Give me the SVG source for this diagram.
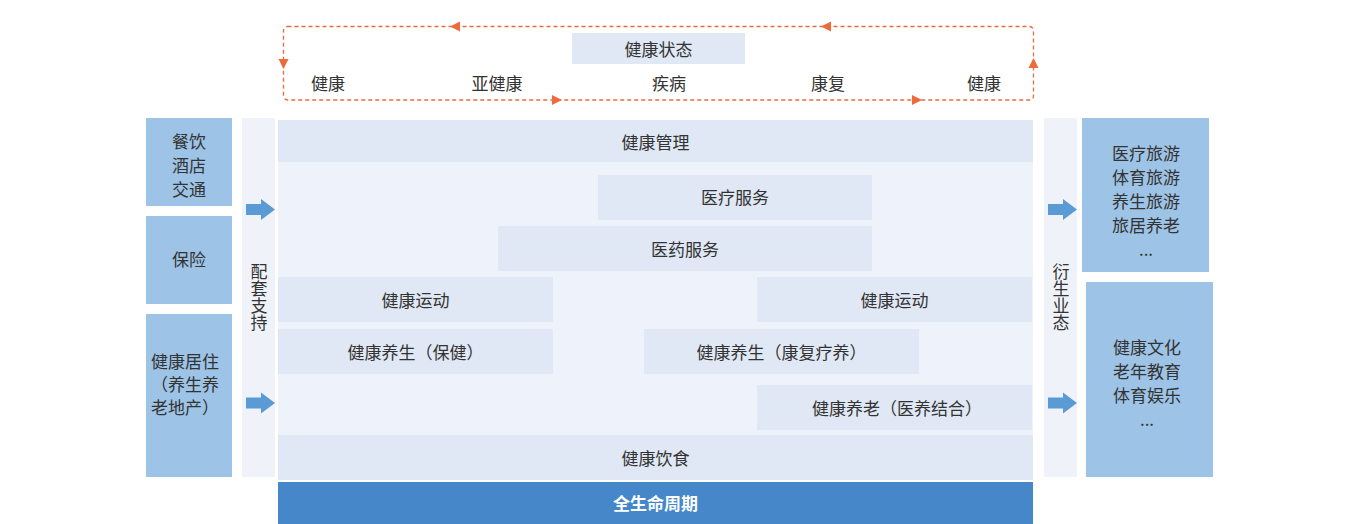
<svg xmlns="http://www.w3.org/2000/svg" width="1360" height="524" viewBox="0 0 1360 524">
<defs>
<style>
text{font-family:"Noto Sans CJK SC","Noto Sans",sans-serif;font-size:17px;fill:#333;text-anchor:middle;dominant-baseline:central}
.vt{writing-mode:vertical-rl;dominant-baseline:auto}
.box{fill:#dfe8f4}
.side{fill:#9dc3e6}
.col{fill:#eff3f9}
.cyc{fill:none;stroke:#ee6a3c;stroke-width:1.3;stroke-dasharray:4 3}
.ah{fill:#ee6a3c}
.ba{fill:#5b9bd5}
.w{fill:#fff;font-weight:bold}
</style>
</defs>
<rect width="1360" height="524" fill="#fff"/>

<g id="cycle">
<rect class="cyc" x="283.5" y="26.5" width="750" height="73.5" rx="4"/>
<polygon class="ah" points="450,26.5 460,21.5 460,31.5"/>
<polygon class="ah" points="821,26.5 831,21.5 831,31.5"/>
<polygon class="ah" points="283.5,69 278.5,59 288.5,59"/>
<polygon class="ah" points="1033.5,58 1028.5,68 1038.5,68"/>
<polygon class="ah" points="562,100 552,95 552,105"/>
<polygon class="ah" points="922,100 912,95 912,105"/>
</g>
<g id="state">
<rect class="box" x="572" y="33" width="173" height="31"/>
<text x="658.5" y="48.5">健康状态</text>
</g>
<g id="stages">
<text x="328" y="82.5">健康</text>
<text x="497" y="82.5">亚健康</text>
<text x="669" y="82.5">疾病</text>
<text x="828" y="82.5">康复</text>
<text x="984" y="82.5">健康</text>
</g>

<g id="left-support">
<rect class="col" x="242" y="118" width="33" height="359"/>
<text class="vt" x="259" y="297">配套支持</text>
</g>
<g id="right-derive">
<rect class="col" x="1044" y="118" width="33" height="359"/>
<text class="vt" x="1061" y="297">衍生业态</text>
</g>

<g id="catering">
<rect class="side" x="146" y="118" width="86" height="88"/>
<text x="189" y="140.5">餐饮</text>
<text x="189" y="164.5">酒店</text>
<text x="189" y="188.5">交通</text>
</g>
<g id="insurance">
<rect class="side" x="146" y="216" width="86" height="88"/>
<text x="189" y="258.5">保险</text>
</g>
<g id="housing">
<rect class="side" x="146" y="314" width="86" height="163"/>
<text x="151" y="360.5" style="text-anchor:start">健康居住</text>
<text x="151" y="383.5" style="text-anchor:start">（养生养</text>
<text x="151" y="406.5" style="text-anchor:start">老地产）</text>
</g>

<g id="tourism">
<rect class="side" x="1082" y="118" width="127" height="154"/>
<text x="1146" y="152.5">医疗旅游</text>
<text x="1146" y="176.5">体育旅游</text>
<text x="1146" y="200.5">养生旅游</text>
<text x="1146" y="224.5">旅居养老</text>
<text x="1146" y="248.5">...</text>
</g>
<g id="culture">
<rect class="side" x="1086" y="282" width="127" height="195"/>
<text x="1147" y="346.5">健康文化</text>
<text x="1147" y="370.5">老年教育</text>
<text x="1147" y="394.5">体育娱乐</text>
<text x="1147" y="418.5">...</text>
</g>

<g id="main">
<rect x="278" y="120" width="755" height="360" fill="#eef2fa"/>
</g>
<g id="mgmt">
<rect class="box" x="278" y="120" width="755" height="42"/>
<text x="655.5" y="141.5">健康管理</text>
</g>
<g id="medical">
<rect class="box" x="598" y="175" width="274" height="45"/>
<text x="735" y="196.5">医疗服务</text>
</g>
<g id="pharma">
<rect class="box" x="498" y="226" width="374" height="45"/>
<text x="685" y="248.5">医药服务</text>
</g>
<g id="sport-left">
<rect class="box" x="278" y="277" width="275" height="45"/>
<text x="415.5" y="299.5">健康运动</text>
</g>
<g id="sport-right">
<rect class="box" x="757" y="277" width="275" height="45"/>
<text x="894.5" y="299.5">健康运动</text>
</g>
<g id="wellness-care">
<rect class="box" x="278" y="329" width="275" height="45"/>
<text x="415.5" y="351.5">健康养生（保健）</text>
</g>
<g id="wellness-rehab">
<rect class="box" x="644" y="329" width="275" height="45"/>
<text x="781.5" y="351.5">健康养生（康复疗养）</text>
</g>
<g id="elderly">
<rect class="box" x="757" y="385" width="275" height="45"/>
<text x="897" y="407.5">健康养老（医养结合）</text>
</g>
<g id="diet">
<rect class="box" x="278" y="435" width="755" height="45"/>
<text x="655.5" y="457.5">健康饮食</text>
</g>
<g id="lifecycle">
<rect x="278" y="482" width="755" height="42" fill="#4587c8"/>
<text class="w" x="655.5" y="502.5">全生命周期</text>
</g>

<g id="connectors">
<polygon class="ba" points="246,204 261,204 261,199 275,209.5 261,220 261,215 246,215"/>
<polygon class="ba" points="246,397.5 261,397.5 261,392.5 275,403 261,413.5 261,408.5 246,408.5"/>
<polygon class="ba" points="1048,204 1063,204 1063,199 1077,209.5 1063,220 1063,215 1048,215"/>
<polygon class="ba" points="1048,397.5 1063,397.5 1063,392.5 1077,403 1063,413.5 1063,408.5 1048,408.5"/>
</g>
</svg>
